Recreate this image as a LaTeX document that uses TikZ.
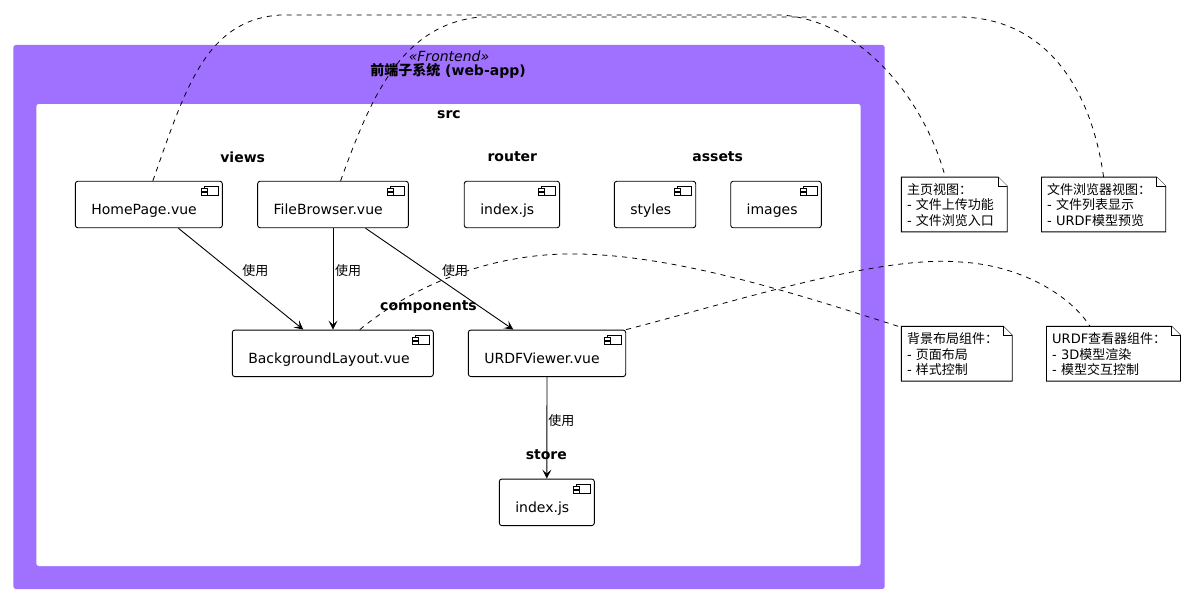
\documentclass[tikz,border=0pt]{standalone}
\usepackage{fontspec}
\setmainfont{DejaVu Sans}
\newfontfamily\cjk{Noto Sans CJK SC}
\newcommand\zh[1]{{\cjk #1}}
\usetikzlibrary{arrows.meta}
\definecolor{frontpurple}{RGB}{160,112,255}
\newcommand\compbox[4]{\node[comp, minimum width=#3pt] (#1) at (#2) {\makebox[\dimexpr#3pt-32pt\relax][l]{#4}};}
\newcommand\notebox[4]{%
  \node[notearea, minimum width=#3pt] (#1) at (#2) {};
  \draw[noteline] (#1.south west) -- (#1.north west) -- ([xshift=-9pt]#1.north east) -- ([yshift=-9pt]#1.north east) -- (#1.south east) -- cycle;
  \draw[noteline] ([xshift=-9pt]#1.north east) |- ([yshift=-9pt]#1.north east);
  \node[notetext] (#1t) at ([xshift=5.5pt,yshift=-6pt]#1.north west) {\rule{0pt}{11pt}#4};
}
\begin{document}
\begin{tikzpicture}[x=1pt,y=-1pt,
  comp/.style={draw, line width=0.9pt, rounded corners=2.5pt, fill=white,
    inner xsep=16pt, inner ysep=0pt, text height=33.5pt, text depth=13pt,
    font=\fontsize{14}{16}\selectfont,
    path picture={
      \draw[line width=0.8pt, sharp corners] ([xshift=-18pt,yshift=-5pt]path picture bounding box.north east) rectangle ([xshift=-4pt,yshift=-14.5pt]path picture bounding box.north east);
      \draw[line width=0.8pt, sharp corners, fill=white] ([xshift=-21pt,yshift=-7.5pt]path picture bounding box.north east) rectangle ([xshift=-15pt,yshift=-10pt]path picture bounding box.north east);
      \draw[line width=0.8pt, sharp corners, fill=white] ([xshift=-21pt,yshift=-11.5pt]path picture bounding box.north east) rectangle ([xshift=-15pt,yshift=-14pt]path picture bounding box.north east);
    }},
  grp/.style={inner sep=0pt, font=\fontsize{14}{16}\selectfont\bfseries},
  notearea/.style={inner sep=0pt, minimum height=54.4pt, draw=none},
  noteline/.style={draw, line width=0.9pt, fill=white, line join=miter},
  notetext/.style={anchor=north west, inner sep=0pt, align=left, font=\fontsize{13}{15.5}\selectfont},
  use/.style={draw, line width=0.9pt, -{Stealth[length=9pt,width=9pt,inset=4pt]}},
  uselabel/.style={inner sep=0pt, anchor=west, font=\fontsize{13}{15}\selectfont\cjk},
  notelink/.style={draw, line width=0.8pt, dash pattern=on 5pt off 5pt},
]
\fill[white] (0,0) rectangle (1189,594);
\useasboundingbox (0,0) rectangle (1189,594);

% containers
\fill[frontpurple, rounded corners=2.5pt] (13.4,45) rectangle (884.7,589);
\fill[white, rounded corners=2.5pt] (36.4,104) rectangle (860.6,566);

\node[inner sep=0pt, font=\fontsize{14}{16}\selectfont\itshape] (stereo) at (449,56) {«Frontend»};
\node[grp] (title) at (448,71) {\zh{前端子系统} (web-app)};
\node[grp] (src) at (449,115) {src};
\node[grp] (views) at (242.7,157) {views};
\node[grp] (router) at (512.3,157) {router};
\node[grp] (assets) at (717.7,157) {assets};
\node[grp] (components) at (428.5,306.7) {components};
\node[grp] (store) at (546.3,455) {store};

% components
\compbox{hp}{148.85,204.5}{147}{HomePage.vue}
\compbox{fb}{333,204.5}{150.7}{FileBrowser.vue}
\compbox{ri}{511.9,204.5}{95.3}{index.js}
\compbox{st}{655,204.5}{81.4}{styles}
\compbox{im}{776,204.5}{90.6}{images}
\compbox{bg}{332.8,353.3}{201}{BackgroundLayout.vue}
\compbox{uv}{547,353.3}{157.4}{URDFViewer.vue}
\compbox{si}{546.8,502.3}{95}{index.js}

% notes
\notebox{n1}{954.25,204.5}{105.5}{\zh{主页视图：}\\- \zh{文件上传功能}\\- \zh{文件浏览入口}}
\notebox{n2}{1103.6,204.5}{123.8}{\zh{文件浏览器视图：}\\- \zh{文件列表显示}\\- URDF\zh{模型预览}}
\notebox{n3}{956.75,353.7}{110.5}{\zh{背景布局组件：}\\- \zh{页面布局}\\- \zh{样式控制}}
\notebox{n4}{1113.5,353.7}{133.6}{URDF\zh{查看器组件：}\\- 3D\zh{模型渲染}\\- \zh{模型交互控制}}

% usage arrows
\draw[use] ([xshift=29.5pt]hp.south) -- node[uselabel, pos=0.42, xshift=11pt] (l1) {使用} ([xshift=-29.5pt]bg.north);
\draw[use] (fb.south) -- node[uselabel, pos=0.42, xshift=1.7pt] (l2) {使用} (fb.south |- bg.north);
\draw[use] ([xshift=32.5pt]fb.south) -- node[uselabel, pos=0.42, xshift=14pt] (l3) {使用} ([xshift=-33.7pt]uv.north);
\draw[use] (uv.south) -- node[uselabel, pos=0.43, xshift=1pt] (l4) {使用} (si.north);

% note links
\draw[notelink] ([xshift=4pt]hp.north) .. controls (185,90) and (205,20) .. (280,15) -- (780,15) .. controls (860,19) and (925,100) .. ([xshift=-9pt]n1.north);
\draw[notelink] ([xshift=7.6pt]fb.north) .. controls (370,100) and (400,25) .. (480,17) -- (960,17) .. controls (1040,18) and (1090,80) .. (n2.north);
\draw[notelink] ([xshift=27pt]bg.north) .. controls (420,280) and (500,252) .. (580,254) .. controls (680,256) and (800,295) .. ([yshift=-1pt]n3.north west);
\draw[notelink] (uv.north east) .. controls (740,300) and (880,255) .. (960,262) .. controls (1020,265) and (1070,295) .. ([xshift=-23.5pt]n4.north);
\end{tikzpicture}
\end{document}
